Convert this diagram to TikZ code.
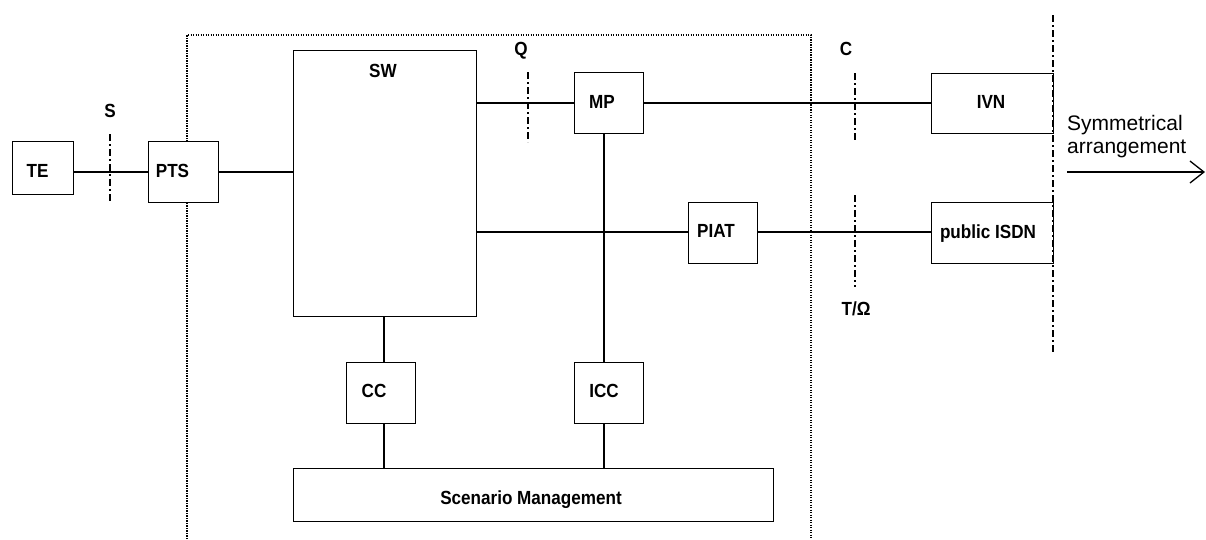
\documentclass[tikz,border=0pt]{standalone}
\usepackage{fontspec}
\setmainfont{Liberation Sans}
\newfontfamily\nbfont[FakeStretch=0.9]{Liberation Sans}
\usetikzlibrary{arrows.meta}
\begin{document}
\begin{tikzpicture}[x=1pt,y=-1pt,
  box/.style={draw, line width=1.3pt, fill=white, inner sep=0pt, anchor=north west},
  conn/.style={line width=1.3pt},
  ref/.style={line width=1.3pt, dash pattern=on 7pt off 3pt on 2pt off 3pt},
  frame/.style={line width=1.2pt, dash pattern=on 1.2pt off 1.3pt},
  lbl/.style={inner sep=0pt, anchor=base, font=\nbfont\bfseries\fontsize{19}{22}\selectfont},
  note/.style={inner sep=0pt, anchor=base west, font=\fontsize{21}{24}\selectfont}]
\useasboundingbox (0,0) rectangle (1206,539);

% dotted enclosure (open at the bottom)
\coordinate (f1) at (187,539);
\coordinate (f2) at (187,35);
\coordinate (f3) at (811,35);
\coordinate (f4) at (811,539);
\draw[frame] (f1) -- (f2) -- (f3) -- (f4);

% connectors drawn first
\coordinate (l172) at (0,172);
\coordinate (l103) at (0,103);
\coordinate (l232) at (0,232);
\coordinate (v384) at (384,0);
\coordinate (v604) at (604,0);

% boxes
\node[box, minimum width=61pt, minimum height=53pt] (te) at (12,141) {};
\node[box, minimum width=70pt, minimum height=61pt] (pts) at (148,141) {};
\node[box, minimum width=183pt, minimum height=266pt] (sw) at (293,50) {};
\node[box, minimum width=69pt, minimum height=61pt] (mp) at (574,72) {};
\node[box, minimum width=122pt, minimum height=60pt] (ivn) at (931,73) {};
\node[box, minimum width=69pt, minimum height=61pt] (piat) at (688,202) {};
\node[box, minimum width=122pt, minimum height=61pt] (isdn) at (931,202) {};
\node[box, minimum width=69pt, minimum height=61pt] (cc) at (346,362) {};
\node[box, minimum width=69pt, minimum height=61pt] (icc) at (574,362) {};
\node[box, minimum width=480pt, minimum height=53pt] (sm) at (293,468) {};

\draw[conn] (te.east |- l172) -- (pts.west |- l172);
\draw[conn] (pts.east |- l172) -- (sw.west |- l172);
\draw[conn] (sw.east |- l103) -- (mp.west |- l103);
\draw[conn] (mp.east |- l103) -- (ivn.west |- l103);
\draw[conn] (sw.east |- l232) -- (piat.west |- l232);
\draw[conn] (piat.east |- l232) -- (isdn.west |- l232);
\draw[conn] (mp.south -| v604) -- (icc.north -| v604);
\draw[conn] (sw.south -| v384) -- (cc.north -| v384);
\draw[conn] (cc.south -| v384) -- (sm.north -| v384);
\draw[conn] (icc.south -| v604) -- (sm.north -| v604);

% reference points
\coordinate (s1) at (110,134); \coordinate (s2) at (110,202);
\coordinate (q1) at (528,72);  \coordinate (q2) at (528,142);
\coordinate (c1) at (855,73);  \coordinate (c2) at (855,142);
\coordinate (t1) at (855,195); \coordinate (t2) at (855,287);
\coordinate (r1) at (1053,15); \coordinate (r2) at (1053,354);
\draw[ref] (s1) -- (s2);
\draw[ref] (q1) -- (q2);
\draw[ref] (c1) -- (c2);
\draw[ref] (t1) -- (t2);
\draw[ref] (r1) -- (r2);

% labels
\node[lbl] (tetxt) at (37.5,177) {TE};
\node[lbl] (ptstxt) at (172.5,177) {PTS};
\node[lbl] (swtxt) at (383,77) {SW};
\node[lbl] (mptxt) at (602,108) {MP};
\node[lbl] (ivntxt) at (991,108) {IVN};
\node[lbl] (piattxt) at (716,237) {PIAT};
\node[lbl] (isdntxt) at (988,238) {public ISDN};
\node[lbl] (cctxt) at (374,397) {CC};
\node[lbl] (icctxt) at (604,397) {ICC};
\node[lbl] (smtxt) at (531,504) {Scenario Management};
\node[lbl] (stxt) at (110,117) {S};
\node[lbl] (qtxt) at (521,55) {Q};
\node[lbl] (ctxt) at (846,55) {C};
\node[lbl] (ttxt) at (856,315) {T/Ω};

% symmetrical arrangement
\node[note] (sym1) at (1067,130) {Symmetrical};
\node[note] (sym2) at (1067,153) {arrangement};
\coordinate (a1) at (1067,172);
\coordinate (a2) at (1205,172);
\draw[conn, -{Straight Barb[length=14pt, width=22pt, line width=1.3pt]}] (a1) -- (a2);
\end{tikzpicture}
\end{document}
